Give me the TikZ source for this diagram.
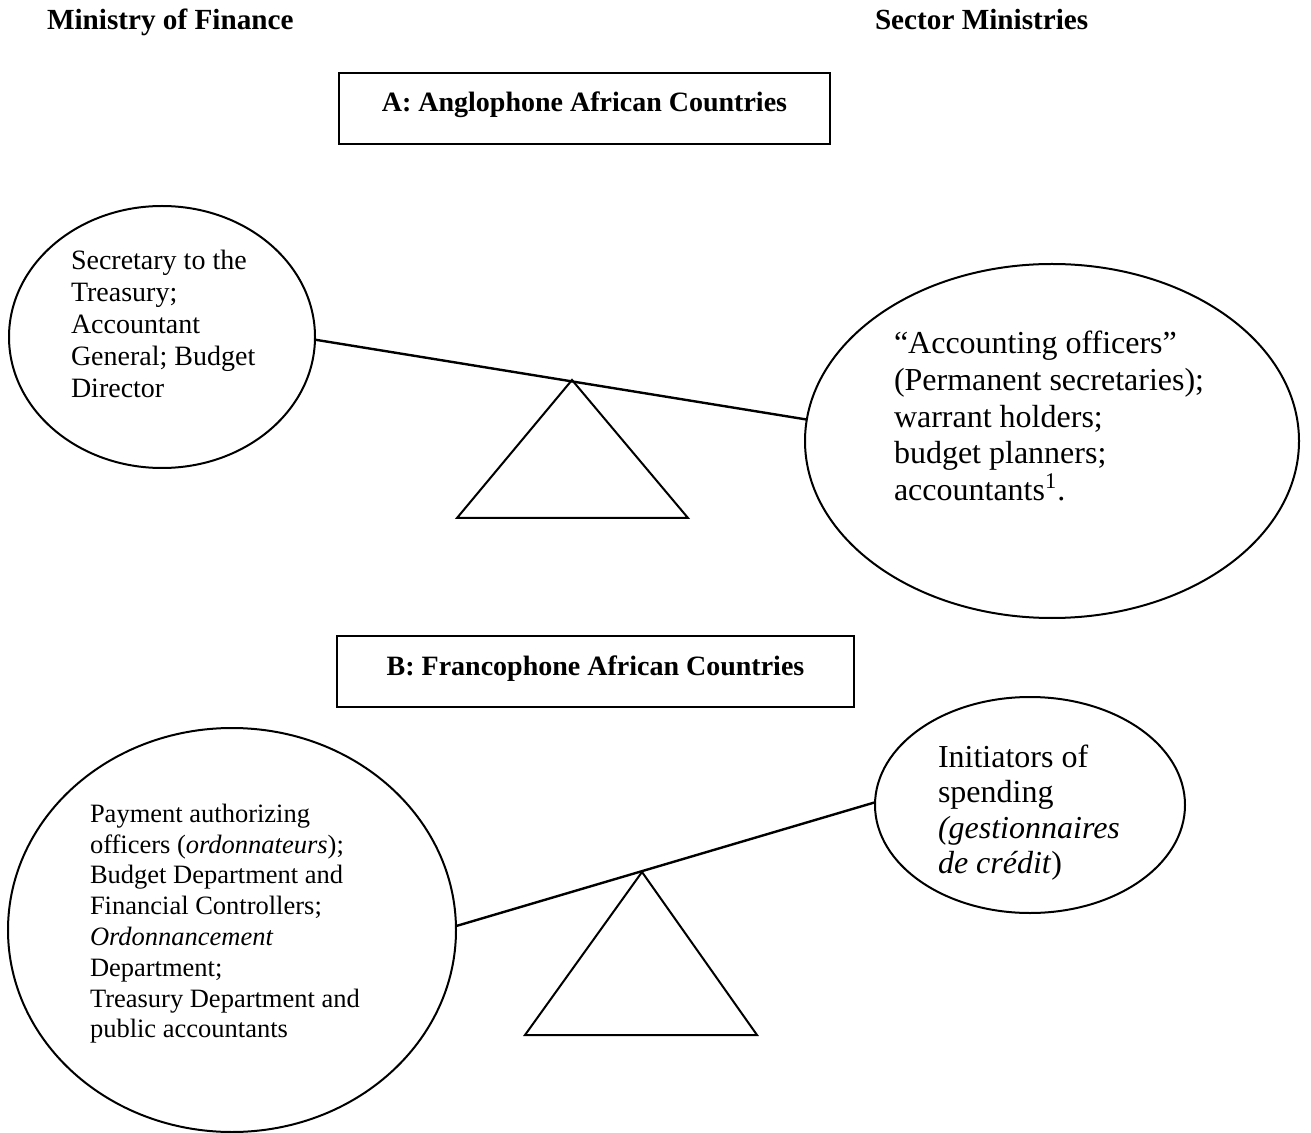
\documentclass[tikz,border=0pt]{standalone}
\usepackage{fontspec}
\setmainfont{Liberation Serif}
\usetikzlibrary{shapes.geometric,positioning,calc}

\tikzset{
  heading/.style={anchor=base west, inner sep=0pt, font=\bfseries\fontsize{14.6}{16}\selectfont},
  titlebox/.style={draw, inner sep=0pt, minimum height=35.5pt, text height=9.5pt, text depth=6pt,
    font=\bfseries\fontsize{14}{16}\selectfont},
  actor/.style={draw, ellipse, inner sep=0pt, outer sep=0pt},
  duties/.style={align=left, anchor=north west, inner sep=0pt},
  beam/.style={line width=1.2pt}
}

\begin{document}
\begin{tikzpicture}[x=0.5pt, y=-0.5pt, line width=1pt]
    \useasboundingbox (0,0) rectangle (1311,1133);

    % Column headings
    \node[heading] (mof) at (46,30) {Ministry of Finance};
    \node[heading] (sector) at (874,30) {Sector Ministries};

    % A: Anglophone
    \node[titlebox, minimum width=245.5pt] (titleA) at (584.5,108.5) {A: Anglophone African Countries};
    \node[actor, minimum width=153pt, minimum height=131pt] (finA) at (162,337) {};
    \node[actor, minimum width=247pt, minimum height=177pt] (secA) at (1052,441) {};
    \node[duties, font=\fontsize{14}{16}\selectfont] (finAtext) at (70,249)
      {Secretary to the\\Treasury;\\Accountant\\General; Budget\\Director};
    \node[duties, font=\fontsize{16}{18.4}\selectfont] (secAtext) at (893,330)
      {``Accounting officers''\\(Permanent secretaries);\\warrant holders;\\budget planners;\\accountants\textsuperscript{1}.};

    % Fulcrum + beam
    \coordinate (pivA) at (572,380);
    \draw (pivA) -- (457,518) -- (688,518) -- cycle;
    \draw[beam] (finA.-1.5) -- (secA.175.6);

    % B: Francophone
    \node[titlebox, minimum width=258.5pt] (titleB) at (595.5,671.5) {B: Francophone African Countries};
    \node[actor, minimum width=224pt, minimum height=202pt] (finB) at (232,930) {};
    \node[actor, minimum width=155pt, minimum height=108pt] (secB) at (1030,805) {};
    \node[duties, font=\fontsize{13.25}{15.4}\selectfont] (finBtext) at (89,803)
      {Payment authorizing\\officers (\textit{ordonnateurs});\\Budget Department and\\Financial Controllers;\\\textit{Ordonnancement}\\Department;\\Treasury Department and\\public accountants};
    \node[duties, font=\fontsize{16}{17.7}\selectfont] (secBtext) at (937,744)
      {Initiators of\\spending\\\textit{(gestionnaires}\\\textit{de crédit})};

    % Fulcrum + beam
    \coordinate (pivB) at (642,872);
    \draw (pivB) -- (525,1035) -- (757,1035) -- cycle;
    \draw[beam] (finB.1.5) -- (secB.179.3);

\end{tikzpicture}
\end{document}
